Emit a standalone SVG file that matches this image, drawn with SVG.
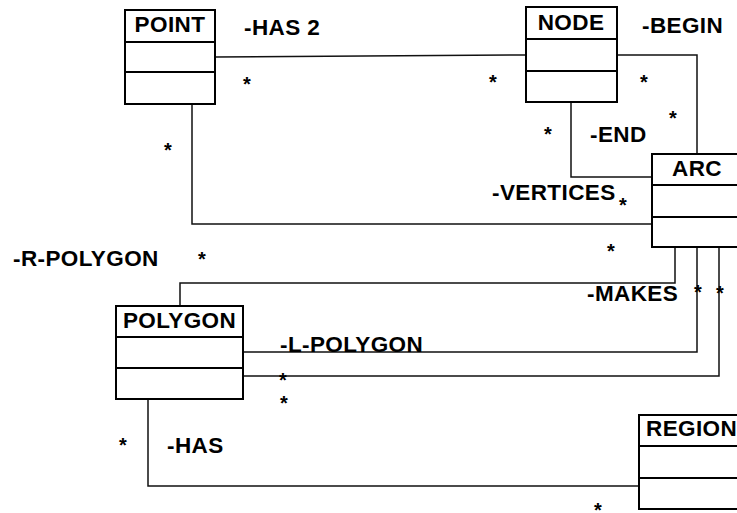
<svg xmlns="http://www.w3.org/2000/svg" width="737" height="513" viewBox="0 0 737 513">
<style>
.box{fill:#fff;stroke:#000;stroke-width:2}
.div{stroke:#000;stroke-width:2}
.con{fill:none;stroke:#111;stroke-width:1.5}
text{font-family:"Liberation Sans",Arial,sans-serif;font-weight:bold;font-size:22.5px;letter-spacing:0.4px;fill:#000}
.t{text-anchor:middle}
.s{font-size:20px;letter-spacing:0}
</style>
<rect width="737" height="513" fill="#fff"/>
<g id="connectors">
<path class="con" d="M215,57 L526,55"/>
<path class="con" d="M617,55 H697 V154"/>
<path class="con" d="M571,102 V177 H652"/>
<path class="con" d="M192,104 V224 H652"/>
<path class="con" d="M675,247 V283 H180 V306"/>
<path class="con" d="M697,247 V352 H243"/>
<path class="con" d="M719,247 V376 H243"/>
<path class="con" d="M148,399 V486 H639"/>
</g>
<g id="point">
<rect class="box" x="125" y="10" width="90" height="94"/>
<line class="div" x1="125" y1="42" x2="215" y2="42"/>
<line class="div" x1="125" y1="72" x2="215" y2="72"/>
<text class="t" x="170" y="32">POINT</text>
</g>
<g id="node">
<rect class="box" x="526" y="7" width="91" height="95"/>
<line class="div" x1="526" y1="39" x2="617" y2="39"/>
<line class="div" x1="526" y1="71" x2="617" y2="71"/>
<text class="t" x="571" y="30">NODE</text>
</g>
<g id="arc">
<rect class="box" x="652" y="154" width="92" height="93"/>
<line class="div" x1="652" y1="185" x2="744" y2="185"/>
<line class="div" x1="652" y1="217" x2="744" y2="217"/>
<text class="t" x="697" y="176">ARC</text>
</g>
<g id="polygon">
<rect class="box" x="116" y="306" width="127" height="93"/>
<line class="div" x1="116" y1="337" x2="243" y2="337"/>
<line class="div" x1="116" y1="368" x2="243" y2="368"/>
<text class="t" x="179.5" y="328">POLYGON</text>
</g>
<g id="region">
<rect class="box" x="639" y="415" width="110" height="94"/>
<line class="div" x1="639" y1="446" x2="749" y2="446"/>
<line class="div" x1="639" y1="478" x2="749" y2="478"/>
<text x="646" y="436">REGION</text>
</g>
<g id="labels">
<text x="244" y="35">-HAS 2</text>
<text x="642" y="33">-BEGIN</text>
<text x="590" y="142">-END</text>
<text x="492" y="200">-VERTICES</text>
<text x="13" y="266">-R-POLYGON</text>
<text x="280" y="352">-L-POLYGON</text>
<text x="587" y="301">-MAKES</text>
<text x="167" y="453">-HAS</text>
</g>
<g id="multiplicities">
<text class="s" x="243" y="91">*</text>
<text class="s" x="489" y="89">*</text>
<text class="s" x="640" y="89">*</text>
<text class="s" x="669" y="125">*</text>
<text class="s" x="544" y="141">*</text>
<text class="s" x="619" y="212">*</text>
<text class="s" x="607" y="258">*</text>
<text class="s" x="164" y="157">*</text>
<text class="s" x="198" y="266">*</text>
<text class="s" x="694" y="299">*</text>
<text class="s" x="716" y="300">*</text>
<text class="s" x="279" y="387">*</text>
<text class="s" x="280" y="410">*</text>
<text class="s" x="119" y="452">*</text>
<text class="s" x="594" y="517">*</text>
</g>
</svg>
